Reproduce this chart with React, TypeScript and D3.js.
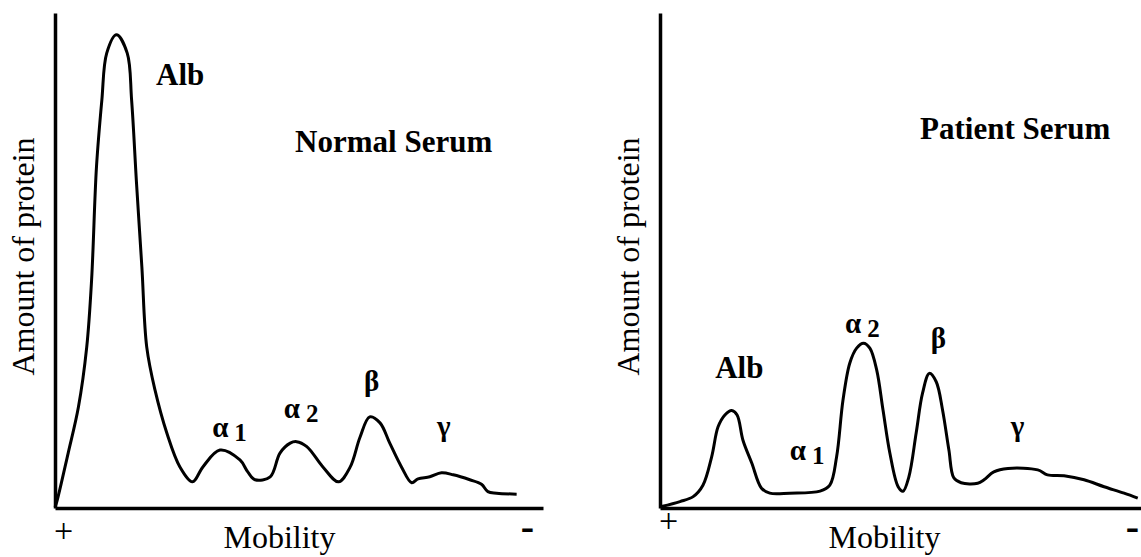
import { useEffect, useRef } from "react";
import * as d3 from "d3";

// Normal serum trace (mobility 0-100 along x axis, amount 0-100 up the y axis)
const normalMobility = [
  0, 0.35, 2.7, 4.8, 6.5, 7.5, 8.5, 9.6, 10.6, 12.6, 14.8, 15.7, 16.7, 17.8,
  18.8, 20.5, 22.9, 25.6, 28.2, 30.3, 33.8, 37.9, 39.5, 41.0, 44.1, 46.1, 48.2,
  49.5, 51.6, 54.9, 58.1, 60.5, 62.5, 64.5, 66.6, 68.6, 71.0, 73.1, 74.4, 76.8,
  79.2, 81.6, 85.0, 87.4, 88.7, 90.5, 94.6,
];
const normalAmount = [
  0.2, 1.2, 11.1, 20.4, 32.5, 46.1, 68.9, 82.4, 91.9, 95.6, 91.9, 82.4, 65.7,
  48.7, 32.5, 23.8, 15.2, 8.3, 5.3, 8.3, 11.7, 9.7, 7.3, 5.7, 6.3, 11.1, 13.1,
  13.4, 12.4, 8.3, 5.3, 8.3, 14.3, 18.4, 17.2, 13.1, 8.3, 5.1, 5.9, 6.3, 7.1,
  6.7, 5.7, 4.8, 3.3, 3.0, 2.8,
];

// Patient serum trace
const patientMobility = [
  0.3, 4.1, 6.8, 8.8, 10.6, 11.9, 13.3, 14.7, 15.8, 17.0, 18.8, 20.8, 22.5,
  26.6, 32.8, 34.8, 36.2, 37.5, 38.9, 40.3, 41.7, 43.0, 44.4, 45.7, 47.1, 48.8,
  49.8, 51.0, 52.5, 53.8, 55.2, 56.6, 57.9, 59.2, 60.2, 61.7, 65.1, 66.4, 68.4,
  71.3, 77.4, 79.4, 82.8, 86.9, 91.0, 95.1, 97.9,
];
const patientAmount = [
  0.3, 1.3, 2.3, 4.6, 10.4, 16.4, 18.8, 19.7, 18.8, 13.7, 9.1, 4.0, 3.0, 3.0,
  3.4, 4.6, 10.4, 21.8, 29.3, 32.3, 33.3, 32.3, 27.9, 19.8, 11.1, 4.3, 3.4, 6.3,
  15.2, 23.2, 27.2, 25.5, 19.8, 11.7, 6.1, 5.1, 5.0, 5.7, 7.3, 8.0, 7.7, 6.7,
  6.5, 5.7, 4.3, 3.0, 2.0,
];

// Fraction labels: [glyph, subscript, mobility, amount]
const normalLabels: [string, string, number, number][] = [
  ["Alb", "", 20.7, 85.5],
  ["α", "1", 32.2, 14.3],
  ["α", "2", 46.9, 18.2],
  ["β", "", 63.3, 23.6],
  ["γ", "", 78.3, 14.5],
];
const patientLabels: [string, string, number, number][] = [
  ["Alb", "", 11.3, 26.3],
  ["α", "1", 26.6, 9.7],
  ["α", "2", 37.9, 35.4],
  ["β", "", 55.5, 32.3],
  ["γ", "", 71.9, 14.5],
];

const panels = [
  {
    title: "Normal Serum",
    titlePos: [49.2, 71.9],
    mobility: normalMobility,
    amount: normalAmount,
    labels: normalLabels,
    left: 55,
    plusLift: 0,
  },
  {
    title: "Patient Serum",
    titlePos: [53.3, 74.5],
    mobility: patientMobility,
    amount: patientAmount,
    labels: patientLabels,
    left: 660,
    plusLift: 10,
  },
];

const FONT = "'Liberation Serif', 'Times New Roman', serif";

export default function App() {
  const svgRef = useRef<SVGSVGElement>(null);

  useEffect(() => {
    if (!svgRef.current) return;
    const width = 1141;
    const height = 557;
    const innerWidth = 488;
    const innerHeight = 495;
    const top = 13;

    const svg = d3.select(svgRef.current);
    svg.selectAll("*").remove();
    svg.attr("width", width).attr("height", height);

    svg
      .append("rect")
      .attr("width", width)
      .attr("height", height)
      .attr("fill", "#fff");

    const x = d3.scaleLinear().domain([0, 100]).range([0, innerWidth]);
    const y = d3.scaleLinear().domain([0, 100]).range([innerHeight, 0]);

    const line = d3
      .line<[number, number]>()
      .x((d) => x(d[0]))
      .y((d) => y(d[1]))
      .curve(d3.curveCatmullRom.alpha(0.5));

    const label = (g: any, tx: number, ty: number, size: number, txt: string) =>
      g
        .append("text")
        .attr("x", tx)
        .attr("y", ty)
        .attr("font-family", FONT)
        .attr("font-size", size)
        .attr("fill", "#000")
        .text(txt);

    panels.forEach((p) => {
      const g = svg.append("g").attr("transform", `translate(${p.left},${top})`);

      // trace
      const pts = p.mobility.map((m, i) => [m, p.amount[i]] as [number, number]);
      g.append("path")
        .datum(pts)
        .attr("fill", "none")
        .attr("stroke", "#000")
        .attr("stroke-width", 3)
        .attr("stroke-linejoin", "round")
        .attr("d", line);

      // axes, no ticks
      const xAxis = g
        .append("g")
        .attr("transform", `translate(0,${innerHeight})`)
        .call(d3.axisBottom(x).tickValues([]).tickSizeOuter(0));
      const yAxis = g
        .append("g")
        .call(d3.axisLeft(y).tickValues([]).tickSizeOuter(0));
      [xAxis, yAxis].forEach((a) =>
        a.select(".domain").attr("stroke", "#000").attr("stroke-width", 3.5)
      );

      // axis titles
      label(g, x(46), innerHeight + 40, 32, "Mobility").attr("text-anchor", "middle");
      label(g, x(1.75), innerHeight + 34 - p.plusLift, 34, "+").attr(
        "text-anchor",
        "middle"
      );
      label(g, x(96.8), innerHeight + 32, 40, "-")
        .attr("text-anchor", "middle")
        .attr("font-weight", "bold");
      label(g, 0, 0, 32, "Amount of protein")
        .attr("transform", `translate(${-21.5},${y(50) - 4}) rotate(-90)`)
        .attr("text-anchor", "middle");

      // panel title
      label(g, x(p.titlePos[0]), y(p.titlePos[1]), 31, p.title).attr(
        "font-weight",
        "bold"
      );

      // fraction labels
      p.labels.forEach(([glyph, sub, m, a]) => {
        const t = label(g, x(m), y(a), glyph === "Alb" ? 31 : 29, "").attr(
          "font-weight",
          "bold"
        );
        t.append("tspan").text(glyph);
        if (sub) {
          t.append("tspan")
            .attr("dx", 6)
            .attr("dy", 4)
            .attr("font-size", 25)
            .text(sub);
        }
      });
    });
  }, []);

  return (
    <svg
      ref={svgRef}
      style={{ position: "absolute", left: 0, top: 0, display: "block" }}
    />
  );
}
